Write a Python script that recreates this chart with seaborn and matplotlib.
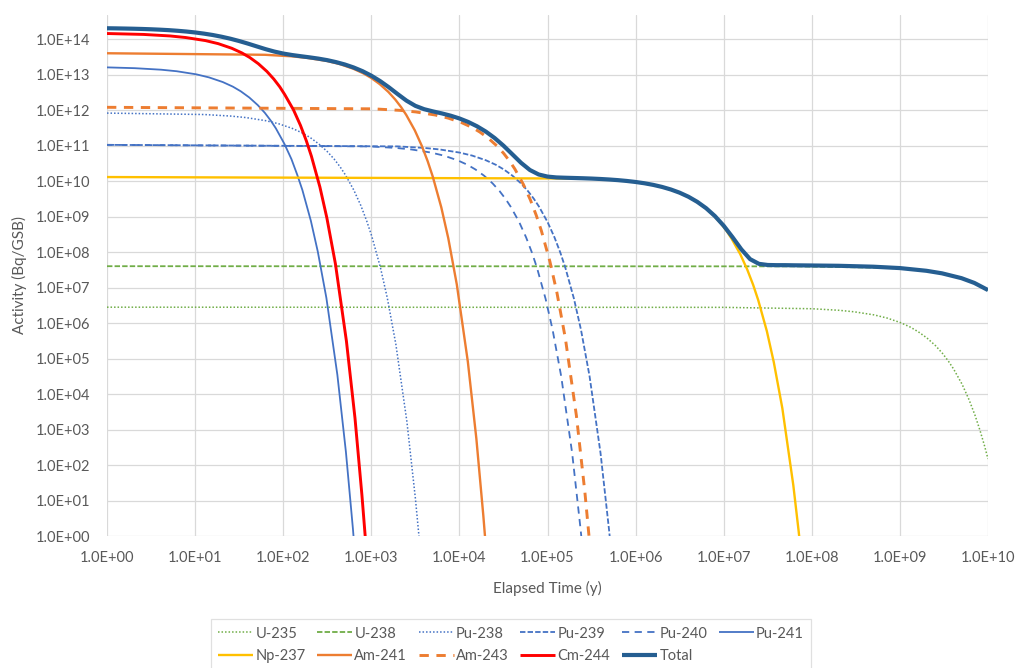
import matplotlib
matplotlib.use("Agg")
import matplotlib.pyplot as plt
import seaborn as sns
from matplotlib.ticker import FixedLocator, FuncFormatter, NullLocator

# ---------------- data ----------------
t_u235 = [1, 1e7, 1.015e8, 2.03e8, 3.05e8, 5.08e8, 7.11e8, 1.015e9, 1.32e9, 1.62e9, 2.03e9, 2.54e9,
          3.05e9, 3.55e9, 4.06e9, 5.08e9, 6.09e9, 7.11e9, 8.12e9, 9.14e9, 1e10]
a_u235 = [2.8e6, 2.77e6, 2.53e6, 2.29e6, 2.07e6, 1.70e6, 1.39e6, 1.03e6, 7.64e5, 5.66e5, 3.79e5, 2.3e5,
          1.39e5, 8.46e4, 5.12e4, 1.89e4, 6.94e3, 2.55e3, 938, 345, 148]

t_u238 = [1, 6.45e7, 6.45e8, 1.29e9, 1.94e9, 3.23e9, 4.52e9, 6.45e9, 8.39e9, 1e10]
a_u238 = [4.0e7, 3.96e7, 3.62e7, 3.28e7, 2.96e7, 2.43e7, 1.99e7, 1.47e7, 1.09e7, 8.5e6]

t_pu238 = [1, 12.7, 25.3, 38, 63.3, 88.6, 127, 165, 203, 253, 316, 380, 443, 506, 633, 760, 886,
           1013, 1266, 1519, 1899, 2532, 3165, 3481, 3544]
a_pu238 = [8.24e11, 7.51e11, 6.8e11, 6.15e11, 5.04e11, 4.13e11, 3.05e11, 2.27e11, 1.68e11, 1.12e11,
           6.81e10, 4.13e10, 2.51e10, 1.52e10, 5.59e9, 2.06e9, 7.57e8, 2.78e8, 3.77e7, 5.1e6, 2.54e5,
           1.71e3, 11.5, 0.95, 0.57]

t_pu239 = [1, 2000, 4000, 6000, 1e4, 1.4e4, 2e4, 2.6e4, 3.2e4, 4e4, 5e4, 6e4, 7e4, 8e4, 1e5, 1.2e5,
           1.4e5, 1.6e5, 2e5, 2.4e5, 3e5, 4e5, 5e5, 5.2e5]
a_pu239 = [1.05e11, 9.5e10, 8.6e10, 7.78e10, 6.37e10, 5.22e10, 3.86e10, 2.87e10, 2.12e10, 1.42e10,
           8.62e9, 5.23e9, 3.17e9, 1.92e9, 7.08e8, 2.6e8, 9.58e7, 3.52e7, 4.77e6, 6.45e5, 3.21e4,
           216, 1.46, 0.54]

t_pu240 = [1, 952, 1905, 2857, 4762, 6667, 9524, 12380, 15240, 19050, 23810, 28570, 33330, 38100,
           47620, 57140, 66670, 76190, 95240, 114300, 142900, 190500, 238100, 247600]
a_pu240 = [1.05e11, 9.5e10, 8.6e10, 7.78e10, 6.37e10, 5.22e10, 3.86e10, 2.87e10, 2.12e10, 1.42e10,
           8.62e9, 5.23e9, 3.17e9, 1.92e9, 7.08e8, 2.6e8, 9.58e7, 3.52e7, 4.77e6, 6.45e5, 3.21e4,
           216, 1.46, 0.54]

t_pu241 = [1, 2.06, 4.12, 6.19, 10.3, 14.4, 20.6, 26.8, 33.0, 41.2, 51.5, 61.9, 72.2, 82.5, 103,
           124, 144, 165, 206, 247, 309, 412, 515, 619, 660]
a_pu241 = [1.6e13, 1.52e13, 1.376e13, 1.245e13, 1.02e13, 8.35e12, 6.18e12, 4.59e12, 3.39e12,
           2.27e12, 1.38e12, 8.37e11, 5.07e11, 3.07e11, 1.13e11, 4.17e10, 1.53e10, 5.63e9, 7.63e8,
           1.03e8, 5.14e6, 3.46e4, 234, 1.57, 0.21]

t_np237 = [1, 3.09e5, 6.17e5, 9.26e5, 1.54e6, 2.16e6, 3.09e6, 4.01e6, 4.94e6, 6.17e6, 7.72e6,
           9.26e6, 1.08e7, 1.23e7, 1.54e7, 1.85e7, 2.16e7, 2.47e7, 3.09e7, 3.70e7, 4.63e7, 6.17e7,
           7.1e7, 7.25e7]
a_np237 = [1.3e10, 1.176e10, 1.065e10, 9.63e9, 7.89e9, 6.46e9, 4.78e9, 3.55e9, 2.63e9, 1.76e9,
           1.07e9, 6.47e8, 3.93e8, 2.38e8, 8.76e7, 3.22e7, 1.19e7, 4.36e6, 5.9e5, 7.98e4, 3.98e3,
           26.8, 1.33, 0.81]

t_am241 = [1, 62.3, 125, 187, 312, 436, 623, 810, 997, 1246, 1558, 1869, 2181, 2492, 3115, 3738,
           4361, 4984, 6230, 7476, 9345, 12460, 15575, 18690, 19940]
a_am241 = [4.0e13, 3.62e13, 3.28e13, 2.96e13, 2.43e13, 1.99e13, 1.47e13, 1.09e13, 8.08e12, 5.4e12,
           3.28e12, 1.99e12, 1.21e12, 7.32e11, 2.7e11, 9.92e10, 3.65e10, 1.34e10, 1.82e9, 2.46e8,
           1.22e7, 8.24e4, 556, 3.74, 0.51]

t_am243 = [1, 1064, 2128, 3192, 5320, 7448, 10640, 13830, 17020, 21280, 26600, 31920, 37240, 42560,
           53200, 63840, 74480, 85120, 106400, 127700, 159600, 212800, 266000, 295800, 303200]
a_am243 = [1.2e12, 1.086e12, 9.83e11, 8.89e11, 7.28e11, 5.96e11, 4.42e11, 3.28e11, 2.42e11, 1.62e11,
           9.85e10, 5.98e10, 3.62e10, 2.2e10, 8.09e9, 2.98e9, 1.09e9, 4.02e8, 5.45e7, 7.37e6, 3.67e5,
           2.47e3, 16.7, 1.0, 0.5]

t_cm244 = [1, 2.6, 5.2, 7.8, 13.1, 18.3, 26.1, 33.9, 41.8, 52.2, 65.3, 78.3, 91.4, 104, 131, 157,
           183, 209, 261, 313, 392, 522, 653, 783, 862]
a_cm244 = [1.44e14, 1.357e14, 1.229e14, 1.11e14, 9.1e13, 7.46e13, 5.52e13, 4.1e13, 3.03e13, 2.03e13,
           1.23e13, 7.47e12, 4.53e12, 2.75e12, 1.01e12, 3.72e11, 1.37e11, 5.03e10, 6.81e9, 9.21e8,
           4.59e7, 3.09e5, 2.09e3, 14, 0.70]

t_total = [1, 1.259, 1.585, 1.995, 2.512, 3.162, 3.981, 5.012, 6.31, 7.943,
           10, 12.59, 15.85, 19.95, 25.12, 31.62, 39.81, 50.12, 63.1, 79.43,
           100, 125.9, 158.5, 199.5, 251.2, 316.2, 398.1, 501.2, 631, 794.3,
           1000, 1259, 1585, 1995, 2512, 3162, 3981, 5012, 6310, 7943,
           1e4, 12590, 15850, 19950, 25120, 31620, 39810, 50120, 63100, 79430,
           1e5, 125900, 158500, 199500, 251200, 316200, 398100, 501200, 631000, 794300,
           1e6, 1.259e6, 1.585e6, 1.995e6, 2.512e6, 3.162e6, 3.981e6, 5.012e6, 6.31e6, 7.943e6,
           1e7, 1.259e7, 1.585e7, 1.995e7, 2.512e7, 3.162e7, 3.981e7, 5.012e7, 6.31e7,
           1e8, 2e8, 5e8, 1e9, 2e9, 3e9, 5e9, 7e9, 1e10]
a_total = [2.025e14, 2.009e14, 1.988e14, 1.964e14, 1.933e14, 1.894e14, 1.847e14, 1.791e14, 1.72e14, 1.638e14,
           1.542e14, 1.431e14, 1.307e14, 1.170e14, 1.028e14, 8.84e13, 7.47e13, 6.24e13, 5.22e13, 4.46e13,
           3.929e13, 3.567e13, 3.30e13, 3.066e13, 2.823e13, 2.557e13, 2.251e13, 1.928e13, 1.588e13, 1.252e13,
           9.34e12, 6.58e12, 4.383e12, 2.819e12, 1.844e12, 1.32e12, 1.061e12, 9.19e11, 8.08e11, 6.98e11,
           5.824e11, 4.639e11, 3.503e11, 2.484e11, 1.634e11, 9.97e10, 5.72e10, 3.27e10, 2.055e10, 1.536e10,
           1.340e10, 1.268e10, 1.243e10, 1.223e10, 1.203e10, 1.178e10, 1.147e10, 1.109e10, 1.064e10, 1.009e10,
           9.44e9, 8.69e9, 7.82e9, 6.85e9, 5.80e9, 4.71e9, 3.62e9, 2.60e9, 1.727e9, 1.035e9,
           5.52e8, 2.63e8, 1.194e8, 6.31e7, 4.66e7, 4.326e7, 4.28e7, 4.276e7, 4.24e7,
           4.19e7, 4.11e7, 3.87e7, 3.54e7, 2.97e7, 2.52e7, 1.84e7, 1.35e7, 8.5e6]

series_names = ["U-235", "U-238", "Pu-238", "Pu-239", "Pu-240", "Pu-241",
                "Np-237", "Am-241", "Am-243", "Cm-244", "Total"]
series_data = [(t_u235, a_u235), (t_u238, a_u238), (t_pu238, a_pu238), (t_pu239, a_pu239),
               (t_pu240, a_pu240), (t_pu241, a_pu241), (t_np237, a_np237), (t_am241, a_am241),
               (t_am243, a_am243), (t_cm244, a_cm244), (t_total, a_total)]

x_ticks = [10.0 ** k for k in range(0, 11)]
y_ticks = [10.0 ** k for k in range(0, 15)]

# ---------------- styles ----------------
GREEN, BLUE, GOLD, ORANGE, RED, NAVY = "#70AD47", "#4472C4", "#FFC000", "#ED7D31", "#FF0000", "#255E91"
dot = (0, (1, 1.3))
sysdash = (0, (3, 1.2))
dash = (0, (4, 3))
dash_thick = (0, (3.2, 2.6))
styles = {
    "U-235": dict(color=GREEN, lw=1.1, ls=dot),
    "U-238": dict(color=GREEN, lw=1.3, ls=sysdash),
    "Pu-238": dict(color=BLUE, lw=1.1, ls=dot),
    "Pu-239": dict(color=BLUE, lw=1.3, ls=sysdash),
    "Pu-240": dict(color=BLUE, lw=1.3, ls=dash),
    "Pu-241": dict(color=BLUE, lw=1.3, ls="-"),
    "Np-237": dict(color=GOLD, lw=1.7, ls="-"),
    "Am-241": dict(color=ORANGE, lw=1.7, ls="-"),
    "Am-243": dict(color=ORANGE, lw=2.1, ls=dash_thick),
    "Cm-244": dict(color=RED, lw=2.1, ls="-"),
    "Total": dict(color=NAVY, lw=3.0, ls="-"),
}

sns.set_theme(style="white")
plt.rcParams["font.family"] = ["Lato", "DejaVu Sans"]
TXT = "#595959"

W, H = 1017, 668
fig = plt.figure(figsize=(W / 100, H / 100), dpi=100)
L, R, T, B = 107, 988, 15, 536
ax = fig.add_axes([L / W, 1 - B / H, (R - L) / W, (B - T) / H])
ax.set_xscale("log")
ax.set_yscale("log")

for name, (tt, aa) in zip(series_names, series_data):
    st = styles[name]
    sns.lineplot(x=tt, y=aa, ax=ax, estimator=None, sort=False, color=st["color"],
                 linewidth=st["lw"], linestyle=st["ls"], label=name,
                 solid_capstyle="butt", dash_capstyle="butt", solid_joinstyle="round")

ax.set_xlim(1, 1e10)
ax.set_ylim(1, 10 ** 14.68)
ax.xaxis.set_major_locator(FixedLocator(x_ticks))
ax.yaxis.set_major_locator(FixedLocator(y_ticks))
ax.xaxis.set_minor_locator(NullLocator())
ax.yaxis.set_minor_locator(NullLocator())
fmt = FuncFormatter(lambda v, p: f"{v:.1E}")
ax.xaxis.set_major_formatter(fmt)
ax.yaxis.set_major_formatter(fmt)
ax.tick_params(axis="both", length=0, labelsize=10.5, labelcolor=TXT)
ax.tick_params(axis="y", pad=12)
ax.tick_params(axis="x", pad=11)
ax.grid(True, which="major", color="#D9D9D9", linewidth=0.9)
ax.set_axisbelow(True)
for s in ax.spines.values():
    s.set_visible(False)

ax.set_xlabel("Elapsed Time (y)", fontsize=11, color=TXT, labelpad=11)
ax.set_ylabel("Activity (Bq/GSB)", fontsize=11, color=TXT, labelpad=6)

handles, labels = ax.get_legend_handles_labels()
if ax.get_legend() is not None:
    ax.get_legend().remove()
order = [0, 6, 1, 7, 2, 8, 3, 9, 4, 10, 5]
leg = fig.legend([handles[i] for i in order], [labels[i] for i in order], ncol=6,
                 loc="upper center", bbox_to_anchor=(511 / W, 1 - 612 / H),
                 frameon=True, fancybox=False, edgecolor="#D9D9D9", fontsize=10.5,
                 handlelength=2.4, handletextpad=0.15, columnspacing=0.8, labelspacing=0.6,
                 borderpad=0.5, labelcolor=TXT)
leg.get_frame().set_linewidth(0.9)

fig.savefig("out.png", dpi=100, facecolor="white")
